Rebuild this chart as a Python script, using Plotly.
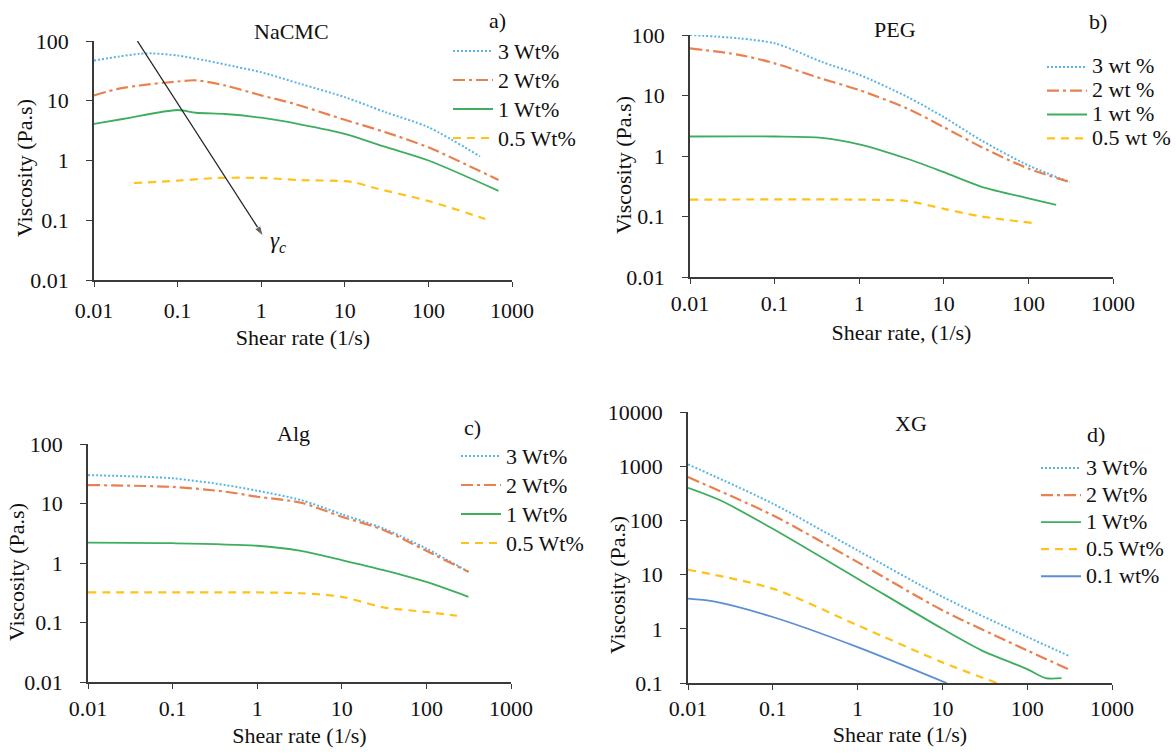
import plotly.graph_objects as go
import math

# ---------------- data ----------------
# a) NaCMC
nacmc_3_x = [0.01, 0.02, 0.035, 0.05, 0.1, 0.22, 0.5, 1, 3, 10, 30, 100, 414]
nacmc_3_y = [47, 55, 61, 62, 57, 47, 37, 30, 19, 11.5, 6.5, 3.6, 1.17]
nacmc_2_x = [0.01, 0.02, 0.035, 0.1, 0.165, 0.37, 1, 2.4, 10, 30, 100, 690]
nacmc_2_y = [12.3, 16, 18, 21, 22, 18, 12.3, 9, 4.8, 3.0, 1.66, 0.47]
nacmc_1_x = [0.01, 0.023, 0.1, 0.165, 0.37, 1, 3, 10, 30, 100, 690]
nacmc_1_y = [4.1, 5, 7.0, 6.3, 6.0, 5.2, 4.0, 2.8, 1.7, 1.0, 0.31]
nacmc_05_x = [0.03, 0.1, 0.3, 1, 3, 12, 24, 100, 480]
nacmc_05_y = [0.42, 0.46, 0.51, 0.51, 0.47, 0.44, 0.34, 0.21, 0.105]

# b) PEG
peg_3_x = [0.01, 0.038, 0.1, 0.17, 0.36, 1, 3.7, 10, 28, 100, 310]
peg_3_y = [100, 88, 73, 56, 36, 22, 9.5, 4.4, 1.8, 0.7, 0.37]
peg_2_x = [0.01, 0.038, 0.1, 0.36, 1, 3.7, 10, 28, 100, 310]
peg_2_y = [60, 47, 34, 19, 12.3, 6.1, 3.0, 1.4, 0.62, 0.37]
peg_1_x = [0.01, 0.1, 0.36, 1, 3.7, 10, 28, 100, 213]
peg_1_y = [2.1, 2.1, 2.0, 1.56, 0.9, 0.54, 0.31, 0.2, 0.156]
peg_05_x = [0.01, 1, 3.7, 10, 28, 124]
peg_05_y = [0.19, 0.19, 0.18, 0.134, 0.1, 0.077]

# c) Alg
alg_3_x = [0.01, 0.1, 0.42, 1, 3.3, 10, 31, 100, 314]
alg_3_y = [30, 26.5, 20.4, 16.4, 11.4, 6.6, 3.8, 1.75, 0.71]
alg_2_x = [0.01, 0.1, 0.42, 1, 3.3, 10, 31, 100, 314]
alg_2_y = [20.4, 19, 15.8, 13, 10.3, 6.0, 3.6, 1.6, 0.71]
alg_1_x = [0.01, 0.1, 1, 3.3, 10, 31, 100, 314]
alg_1_y = [2.2, 2.15, 1.95, 1.6, 1.12, 0.76, 0.48, 0.27]
alg_05_x = [0.01, 1, 3.3, 10, 31, 100, 230]
alg_05_y = [0.32, 0.32, 0.31, 0.27, 0.18, 0.15, 0.13]

# d) XG
xg_3_x = [0.01, 0.1, 1, 10, 100, 305]
xg_3_y = [1080, 204, 28, 3.9, 0.71, 0.32]
xg_2_x = [0.01, 0.1, 1, 10, 100, 305]
xg_2_y = [630, 124, 17, 2.2, 0.4, 0.18]
xg_1_x = [0.01, 0.024, 0.1, 1, 10, 29, 100, 165, 254]
xg_1_y = [400, 235, 70, 8.4, 1.0, 0.4, 0.18, 0.123, 0.123]
xg_05_x = [0.01, 0.1, 1, 10, 44]
xg_05_y = [12.3, 5.5, 1.16, 0.24, 0.1]
xg_01_x = [0.01, 0.02, 0.1, 1, 11.2]
xg_01_y = [3.6, 3.2, 1.65, 0.46, 0.1]

names_upper = ["3 Wt%", "2 Wt%", "1 Wt%", "0.5 Wt%"]
names_peg = ["3 wt %", "2 wt %", "1 wt %", "0.5 wt %"]
names_xg = ["3 Wt%", "2 Wt%", "1 Wt%", "0.5 Wt%", "0.1 wt%"]

x_tickvals = [0.01, 0.1, 1, 10, 100, 1000]
x_ticktext = ["0.01", "0.1", "1", "10", "100", "1000"]
y_tickvals = [0.01, 0.1, 1, 10, 100]
y_ticktext = ["0.01", "0.1", "1", "10", "100"]
y_tickvals_xg = [0.1, 1, 10, 100, 1000, 10000]
y_ticktext_xg = ["0.1", "1", "10", "100", "1000", "10000"]

# gamma_c arrow (tail -> head, data units of panel a)
arrow_x = [0.033, 1.06]
arrow_y = [100, 0.054]
gamma_label_x = 1.6
gamma_label_y = 0.043

# ---------------- styles ----------------
FONT = "Liberation Serif, Times New Roman, serif"
FS = 22
TXT = "#111111"
styles = {
    "3": dict(color="#5AB4E6", dash="2px,2px", width=2),
    "2": dict(color="#E8804F", dash="12px,4px,3px,4px", width=2.2),
    "1": dict(color="#3DAE5E", dash="solid", width=1.8),
    "05": dict(color="#FFC21A", dash="8px,6px", width=2.2),
    "01": dict(color="#5B8FD2", dash="solid", width=1.8),
}

W, H = 1176, 754
def px_x(p):
    return p / W
def px_y(p):
    return 1 - p / H

fig = go.Figure()

panels = [
    ("x", "y", "legend",
     [(nacmc_3_x, nacmc_3_y, "3"), (nacmc_2_x, nacmc_2_y, "2"),
      (nacmc_1_x, nacmc_1_y, "1"), (nacmc_05_x, nacmc_05_y, "05")], names_upper),
    ("x2", "y2", "legend2",
     [(peg_3_x, peg_3_y, "3"), (peg_2_x, peg_2_y, "2"),
      (peg_1_x, peg_1_y, "1"), (peg_05_x, peg_05_y, "05")], names_peg),
    ("x3", "y3", "legend3",
     [(alg_3_x, alg_3_y, "3"), (alg_2_x, alg_2_y, "2"),
      (alg_1_x, alg_1_y, "1"), (alg_05_x, alg_05_y, "05")], names_upper),
    ("x4", "y4", "legend4",
     [(xg_3_x, xg_3_y, "3"), (xg_2_x, xg_2_y, "2"), (xg_1_x, xg_1_y, "1"),
      (xg_05_x, xg_05_y, "05"), (xg_01_x, xg_01_y, "01")], names_xg),
]

for pi, (xa, ya, lg, series, names) in enumerate(panels):
    for si, ((xs, ys, key), nm) in enumerate(zip(series, names)):
        st = styles[key]
        fig.add_trace(go.Scatter(
            x=xs, y=ys, mode="lines",
            name=f'<span style="font-size:{FS}px">{nm}</span>',
            xaxis=xa, yaxis=ya, legend=lg,
            line=dict(color=st["color"], dash=st["dash"], width=st["width"],
                      shape="spline", smoothing=0.8),
        ))

# arrow marking the critical shear rate in panel a
fig.add_trace(go.Scatter(
    x=arrow_x, y=arrow_y, mode="lines+markers", xaxis="x", yaxis="y",
    showlegend=False, hoverinfo="skip",
    line=dict(color="#222222", width=1.3),
    marker=dict(symbol="arrow", size=[0, 11], angleref="previous", color="#222222"),
))

boxes = {
    1: (94, 512, 41, 280),
    2: (690, 1113, 35, 277),
    3: (88, 511, 444, 682),
    4: (688, 1112, 412, 683),
}
xtitles = {1: "Shear rate (1/s)", 2: "Shear rate, (1/s)", 3: "Shear rate (1/s)", 4: "Shear rate (1/s)"}
xstand = {1: 7, 2: 9, 3: 7, 4: 6}
xlabstand = {1: 5, 2: 1, 3: 1, 4: 0}

axis_common = dict(
    type="log", showline=True, linecolor="#3a3a3a", linewidth=1.5,
    ticks="outside", tickwidth=1.2, tickcolor="#3a3a3a",
    showgrid=False, zeroline=False, mirror=False,
    tickfont=dict(family=FONT, size=FS, color=TXT),
)

layout_axes = {}
for i in range(1, 5):
    x0, x1, y0, y1 = boxes[i]
    sfx = "" if i == 1 else str(i)
    layout_axes[f"xaxis{sfx}"] = dict(
        axis_common, domain=[px_x(x0), px_x(x1)], range=[-2, 3],
        anchor=f"y{sfx}", tickvals=x_tickvals, ticktext=x_ticktext,
        ticklen=5, ticklabelstandoff=xlabstand[i],
        title=dict(text=xtitles[i], font=dict(family=FONT, size=FS, color=TXT), standoff=xstand[i]),
    )
    if i == 4:
        yr, tv, tt = [-1, 4], y_tickvals_xg, y_ticktext_xg
    else:
        yr, tv, tt = [-2, 2], y_tickvals, y_ticktext
    layout_axes[f"yaxis{sfx}"] = dict(
        axis_common, domain=[px_y(y1), px_y(y0)], range=yr,
        anchor=f"x{sfx}", tickvals=tv, ticktext=tt,
        ticklen=6, ticklabelstandoff=13,
    )

# legends: (left px, top px, layout font size giving the row pitch)
legend_pos = {
    "legend": (448, 31.5, 20),
    "legend2": (1042, 50, 16),
    "legend3": (456, 436.5, 20),
    "legend4": (1036, 449.5, 18.5),
}
legends = {}
for k, (lx, ly, fs) in legend_pos.items():
    legends[k] = dict(
        x=px_x(lx), y=px_y(ly), xanchor="left", yanchor="top",
        xref="paper", yref="paper", borderwidth=0,
        font=dict(family=FONT, size=fs, color=TXT),
        bgcolor="rgba(0,0,0,0)", itemwidth=40, traceorder="normal",
    )

annotations = []
titles = [("NaCMC", 291, 32), ("a)", 497, 20), ("PEG", 895, 30), ("b)", 1098, 22),
          ("Alg", 293, 433), ("c)", 472, 427), ("XG", 911, 423), ("d)", 1096, 435)]
for t, tx, ty in titles:
    annotations.append(dict(text=t, x=px_x(tx), y=px_y(ty), xref="paper", yref="paper",
                            showarrow=False, xanchor="center", yanchor="middle",
                            font=dict(family=FONT, size=FS, color=TXT)))
# y-axis titles
ytitle_pos = [(24, 168), (623, 165), (16, 572), (617, 585)]
for tx, ty in ytitle_pos:
    annotations.append(dict(text="Viscosity (Pa.s)", x=px_x(tx), y=px_y(ty), xref="paper", yref="paper",
                            showarrow=False, textangle=-90, xanchor="center", yanchor="middle",
                            font=dict(family=FONT, size=FS, color=TXT)))
annotations.append(dict(
    x=math.log10(gamma_label_x), y=math.log10(gamma_label_y), xref="x", yref="y",
    text="<i>γ<sub>c</sub></i>", showarrow=False, xanchor="center", yanchor="middle",
    font=dict(family=FONT, size=FS + 1, color=TXT),
))

fig.update_layout(
    width=W, height=H, margin=dict(l=0, r=0, t=0, b=0, autoexpand=False),
    paper_bgcolor="white", plot_bgcolor="white",
    showlegend=True, annotations=annotations,
    **layout_axes, **legends,
)

fig.write_html("out.html")
